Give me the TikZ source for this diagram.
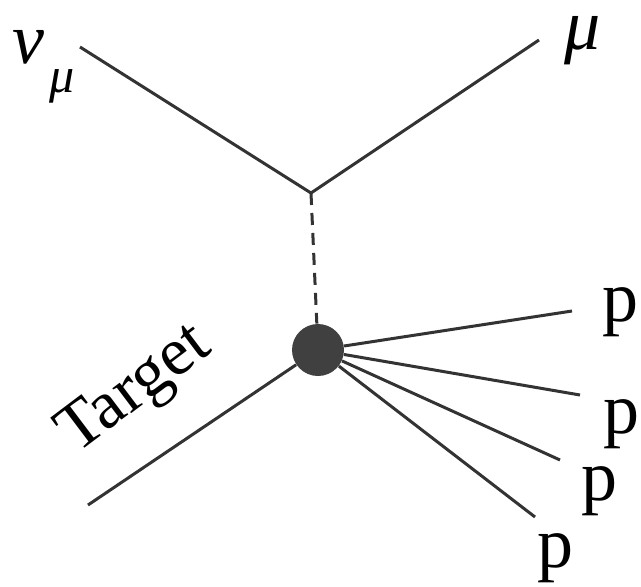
\documentclass[tikz,border=0pt]{standalone}
\usepackage{fontspec}
\newfontfamily\serifface{Liberation Serif}
\usepackage{tikz}
\usetikzlibrary{positioning,calc}

\begin{document}
\begin{tikzpicture}[
		x=0.5pt,y=0.5pt,
		leg/.style={line width=1.5pt,black!80},
		prop/.style={leg,dash pattern=on 6pt off 4pt},
		blob/.style={circle,fill=black!75,minimum size=26pt,inner sep=0pt},
		lbl/.style={inner sep=0pt,font=\serifface\fontsize{36}{38}\selectfont},
		glbl/.style={inner sep=0pt,font=\serifface\itshape\fontsize{36}{38}\selectfont}
		]
		\useasboundingbox (0,0) rectangle (641,586);

		% vertices
		\coordinate (vtx) at (311,393);
		\node[blob] (tgt) at (318,236) {};

		% free ends of the legs
		\coordinate (nuend) at (80,539);
		\coordinate (muend) at (539,546);
		\coordinate (tend) at (88,81);
		\coordinate (p1end) at (572,275);
		\coordinate (p2end) at (580,191);
		\coordinate (p3end) at (560,126);
		\coordinate (p4end) at (535,69);

		% labels
		\node[glbl] (nu) at (28,539) {ν};
		\node[glbl,font=\serifface\itshape\fontsize{25}{27}\selectfont] (nusub) at (62,500) {μ};
		\node[glbl] (mu) at (583,545) {μ};
		\node[lbl,rotate=37,font=\serifface\fontsize{34}{36}\selectfont] (tlbl) at (136,195) {Target};
		\node[lbl] (p1) at (620,274) {p};
		\node[lbl] (p2) at (621,162) {p};
		\node[lbl] (p3) at (599,95) {p};
		\node[lbl] (p4) at (555,28) {p};

		\draw[leg] (nuend) -- (vtx);
		\draw[leg] (vtx) -- (muend);
		\draw[prop] (vtx) -- (tgt);
		\draw[leg] (tend) -- (tgt);
		\draw[leg] (tgt) -- (p1end);
		\draw[leg] (tgt) -- (p2end);
		\draw[leg] (tgt) -- (p3end);
		\draw[leg] (tgt) -- (p4end);

	\end{tikzpicture}
\end{document}
